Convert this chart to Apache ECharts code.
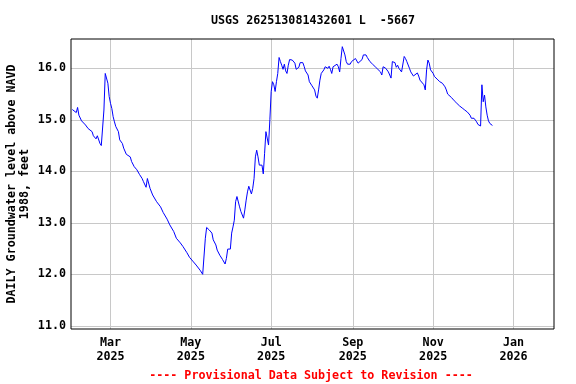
<!DOCTYPE html>
<html><head><meta charset="utf-8">
<script src="https://cdn.jsdelivr.net/npm/echarts@6/dist/echarts.min.js"></script>
<style>html,body{margin:0;padding:0;background:#fff}#c{width:576px;height:384px}</style>
</head><body><div id="c"></div><script>
const titleText = 'USGS 262513081432601 L  -5667';
const yAxisTitle = 'DAILY Groundwater level above NAVD\n1988, feet';
const footerText = '---- Provisional Data Subject to Revision ----';

// days since 2025-01-01
const dayOffsets = [30,31,33,34,35,37,40,42,45,46,48,49,50,51,52,53,54,55,56,57,58,59,60,61,62,63,65,66,68,69,71,74,75,77,79,81,83,84,85,86,87,88,89,91,94,97,99,102,104,107,109,112,114,117,119,122,124,127,129,130,131,132,133,134,136,137,139,140,142,144,146,147,148,150,151,152,153,154,155,157,158,160,161,162,163,164,165,166,167,168,169,170,171,172,173,174,175,176,177,178,179,180,181,182,183,184,185,186,187,188,189,190,191,192,193,194,195,197,199,200,202,203,205,206,207,209,210,212,214,215,216,217,218,219,220,221,222,224,225,226,227,228,229,231,232,233,234,235,236,237,238,239,241,242,243,245,246,247,248,250,251,253,254,256,258,260,262,264,265,266,267,268,270,271,272,273,275,276,277,278,280,281,282,283,284,286,287,289,290,292,293,294,295,297,298,299,300,301,302,304,305,307,309,311,313,314,315,316,318,320,322,324,326,328,330,331,332,333,334,335,337,338,340,341,342,343,344,345,346,347,349];
const levels = [15.20,15.17,15.14,15.24,15.09,14.98,14.90,14.83,14.77,14.69,14.63,14.69,14.67,14.54,14.50,14.48,15.19,15.90,15.90,15.71,15.45,15.32,15.22,15.06,14.96,14.87,14.77,14.61,14.54,14.45,14.33,14.28,14.19,14.09,14.03,13.94,13.86,13.80,13.77,13.69,13.86,13.83,13.67,13.54,13.41,13.31,13.20,13.07,12.96,12.83,12.70,12.61,12.54,12.42,12.33,12.24,12.18,12.08,12.00,11.99,12.70,12.91,12.92,12.86,12.80,12.67,12.57,12.47,12.37,12.29,12.20,12.31,12.49,12.49,12.80,12.92,13.05,13.41,13.51,13.31,13.22,13.09,13.25,13.44,13.60,13.71,13.70,13.56,13.67,13.86,14.28,14.41,14.28,14.12,14.09,14.12,13.95,14.35,14.77,14.75,14.51,15.00,15.55,15.74,15.68,15.55,15.74,15.90,16.21,16.13,16.06,15.98,16.08,15.95,15.90,16.06,16.17,16.16,16.10,15.98,16.02,16.11,16.11,16.04,15.95,15.87,15.74,15.66,15.58,15.46,15.42,15.58,15.77,15.90,15.89,15.97,16.03,16.00,16.04,15.98,15.90,16.03,16.06,16.08,16.03,15.93,16.19,16.42,16.39,16.26,16.13,16.08,16.08,16.13,16.10,16.19,16.17,16.10,16.10,16.17,16.26,16.26,16.21,16.13,16.08,16.03,15.98,15.93,15.87,16.03,16.06,16.00,15.93,15.87,15.81,16.13,16.11,16.02,16.06,16.00,15.93,15.93,16.23,16.19,16.13,16.00,15.93,15.85,15.84,15.91,15.85,15.77,15.75,15.68,15.58,15.97,16.16,16.10,15.97,15.90,15.84,15.79,15.74,15.71,15.64,15.58,15.50,15.48,15.43,15.37,15.32,15.27,15.23,15.19,15.15,15.17,15.09,15.03,15.04,15.03,14.96,14.91,14.88,15.68,15.35,15.48,15.25,15.09,14.98,14.93,14.89];

const yTicks = [11, 12, 13, 14, 15, 16];
const xTickDates = ['2025-03-01','2025-05-01','2025-07-01','2025-09-01','2025-11-01','2026-01-01'];
const xTickLabels = ['Mar\n2025','May\n2025','Jul\n2025','Sep\n2025','Nov\n2025','Jan\n2026'];

const DAY = 86400000;
const base = Date.UTC(2025, 0, 1);
const seriesData = dayOffsets.map((d, i) => [base + d * DAY, levels[i]]);
const xTickVals = xTickDates.map(s => Date.parse(s + 'T00:00:00Z'));

const FONT = '"DejaVu Sans Mono", "Liberation Mono", monospace';
const chart = echarts.init(document.getElementById('c'), null, {renderer: 'canvas'});

const gridMarks = [];
yTicks.forEach(v => gridMarks.push({yAxis: v}));
xTickVals.forEach(v => gridMarks.push({xAxis: v}));

chart.setOption({
  animation: false,
  backgroundColor: '#fff',
  grid: {left: 71, top: 39, width: 483, height: 290, show: true, borderColor: '#000', borderWidth: 1, backgroundColor: 'transparent', z: 10},
  xAxis: {
    type: 'value',
    min: Date.UTC(2025, 0, 30),
    max: Date.UTC(2026, 0, 31, 18),
    axisLine: {show: false},
    axisTick: {show: false},
    splitLine: {show: false},
    axisLabel: {
      customValues: xTickVals,
      formatter: (v) => { const i = xTickVals.indexOf(v); return i >= 0 ? xTickLabels[i] : ''; },
      fontFamily: FONT, fontWeight: 'bold', fontSize: 11.7, color: '#000', lineHeight: 14, margin: 7
    }
  },
  yAxis: {
    type: 'value',
    min: 10.938,
    max: 16.569,
    axisLine: {show: false},
    axisTick: {show: false},
    splitLine: {show: false},
    axisLabel: {
      customValues: yTicks,
      formatter: (v) => v.toFixed(1),
      fontFamily: FONT, fontWeight: 'bold', fontSize: 11.7, color: '#000', margin: 5,
      padding: [3, 0, 0, 0]
    }
  },
  series: [{
    type: 'line',
    data: seriesData,
    showSymbol: false,
    symbol: 'none',
    lineStyle: {color: '#0000ff', width: 1},
    z: 3,
    markLine: {
      silent: true,
      symbol: 'none',
      z: 1,
      label: {show: false},
      lineStyle: {color: '#c8c8c8', width: 1, type: 'solid'},
      emphasis: {disabled: true},
      data: gridMarks
    }
  }],
  graphic: [
    {type: 'text', x: 313, y: 21, style: {text: titleText, font: 'bold 11.7px ' + FONT, fill: '#000', textAlign: 'center', textVerticalAlign: 'middle'}},
    {type: 'text', x: 18, y: 184, rotation: Math.PI / 2, style: {text: yAxisTitle, font: 'bold 11.7px ' + FONT, fill: '#000', textAlign: 'center', textVerticalAlign: 'middle', lineHeight: 13}},
    {type: 'text', x: 311, y: 376, style: {text: footerText, font: 'bold 11.7px ' + FONT, fill: '#ff0000', textAlign: 'center', textVerticalAlign: 'middle'}}
  ]
});
</script></body></html>
